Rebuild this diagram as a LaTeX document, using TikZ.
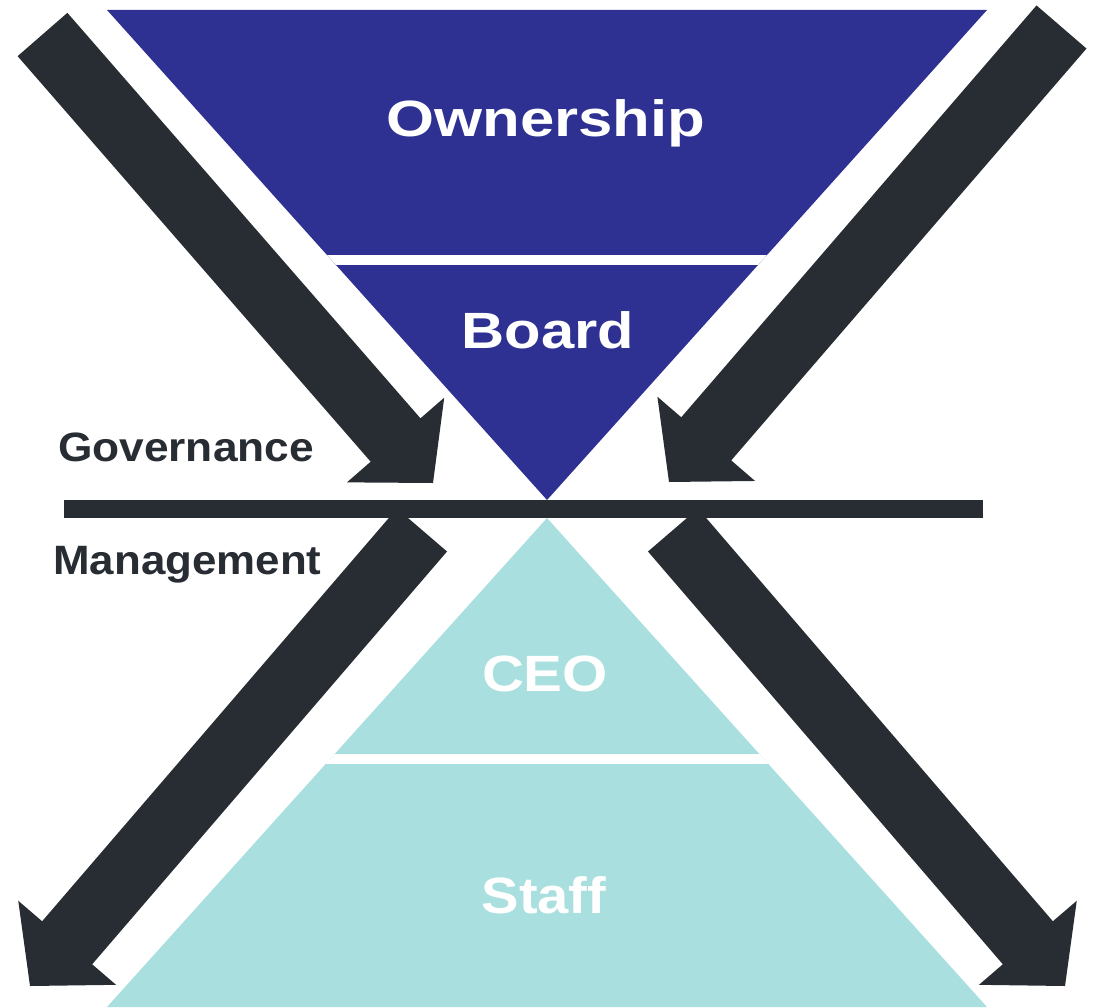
\documentclass[tikz,border=0pt]{standalone}
\usepackage{fontspec}
\setmainfont{Liberation Sans}
\usetikzlibrary{calc}
\definecolor{ownblue}{RGB}{46,49,146}
\definecolor{mgmtteal}{RGB}{169,224,223}
\definecolor{arrowdark}{RGB}{40,44,51}

\tikzset{
  arrowfill/.style={fill=arrowdark},
  bigtxt/.style={text=white, font=\fontsize{51pt}{51pt}\selectfont\bfseries, inner sep=0pt, anchor=base},
  sidetxt/.style={text=arrowdark, font=\fontsize{41pt}{41pt}\selectfont\bfseries, inner sep=0pt, anchor=base},
}

\newcommand\blockarrow[3]{%
  \coordinate (#1-a) at #2;
  \coordinate (#1-t) at #3;
  \coordinate (#1-b) at ($(#1-t)!57pt!(#1-a)$);
  \fill[arrowfill] ($(#1-a)!33pt!90:(#1-t)$) -- ($(#1-b)!33pt!90:(#1-t)$)
    -- ($(#1-b)!64.5pt!90:(#1-t)$) -- (#1-t) -- ($(#1-b)!64.5pt!-90:(#1-t)$)
    -- ($(#1-b)!33pt!-90:(#1-t)$) -- ($(#1-a)!33pt!-90:(#1-t)$) -- cycle;
}

\begin{document}
\begin{tikzpicture}[x=1pt, y=-1pt]
\useasboundingbox (0,0) rectangle (1099,1008);

% governance (inverted) triangle
\coordinate (gTL) at (107,10);
\coordinate (gTR) at (987,10);
\coordinate (gApex) at (547,500);
\fill[ownblue] (gTL) -- (gTR) -- (gApex) -- cycle;
\begin{scope}
  \clip (gTL) -- (gTR) -- (gApex) -- cycle;
  \fill[white] (0,255) rectangle (1099,265);
\end{scope}

% management triangle
\coordinate (mApex) at (547,518);
\coordinate (mBL) at (107,1007);
\coordinate (mBR) at (987,1007);
\fill[mgmtteal] (mApex) -- (mBR) -- (mBL) -- cycle;
\begin{scope}
  \clip (mApex) -- (mBR) -- (mBL) -- cycle;
  \fill[white] (0,754) rectangle (1099,764);
\end{scope}

% block arrows
\blockarrow{tl}{(42.5,34.5)}{(433,483)}
\blockarrow{tr}{(1061.5,27)}{(669,482)}
\blockarrow{bl}{(422,530)}{(30,986)}
\blockarrow{br}{(673,530)}{(1065,986)}

% dividing bar
\fill[arrowdark] (64,500) rectangle (983,518);

% texts
\node[bigtxt] (own) at (546,137) {\scalebox{1.21}[1]{Ownership}};
\node[bigtxt] (board) at (548,348) {\scalebox{1.17}[1]{Board}};
\node[bigtxt] (ceo) at (545,691) {\scalebox{1.14}[1]{CEO}};
\node[bigtxt] (staff) at (544,913) {\scalebox{1.10}[1]{Staff}};
\node[sidetxt] (gov) at (186,461) {\scalebox{1.08}[1]{Governance}};
\node[sidetxt] (mgmt) at (187.5,574) {\scalebox{1.07}[1]{Management}};
\end{tikzpicture}
\end{document}
